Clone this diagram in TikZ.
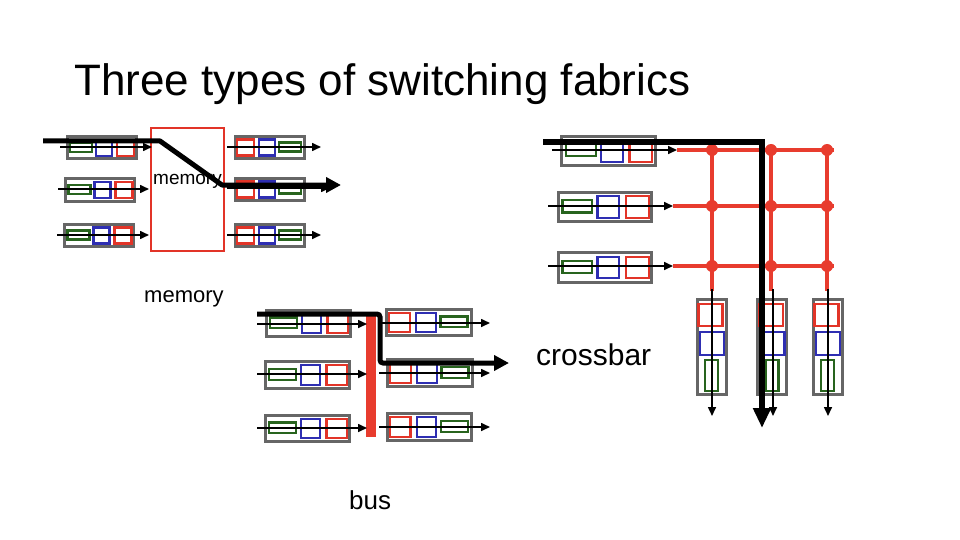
\documentclass[tikz,border=0pt]{standalone}
\usepackage{fontspec}
\setmainfont{Liberation Sans}
\usetikzlibrary{arrows.meta}
\definecolor{qred}{RGB}{226,52,40}
\definecolor{qblue}{RGB}{46,46,178}
\definecolor{qgreen}{RGB}{40,100,30}
\definecolor{qgray}{RGB}{102,102,102}
\definecolor{xred}{RGB}{232,60,46}
\tikzset{
  qbox/.style={draw=qgray, line width=3pt, fill=white, inner sep=0pt},
  cell/.style={line width=2.2pt, inner sep=0pt},
  qarrow/.style={line width=1.6pt, -{Triangle[length=9pt,width=8pt]}},
  bigarrow/.style={line width=5pt, -{Triangle[length=15pt,width=15pt]}},
  redline/.style={xred, line width=4pt},
  xdot/.style={circle, fill=xred, minimum size=12pt, inner sep=0pt},
  lbl/.style={inner sep=0pt, anchor=base west},
  pics/inq/.style={code={
    \node[qbox, minimum width=69pt, minimum height=22pt] (-box) at (0,0) {};
    \node[cell, draw=qgreen, minimum width=22pt, minimum height=9pt] (-g) at (-20.5,-0.5) {};
    \node[cell, draw=qblue, minimum width=16pt, minimum height=16pt] (-b) at (2.5,0) {};
    \node[cell, draw=qred, minimum width=17pt, minimum height=16pt] (-r) at (24,0) {};
  }},
  pics/vq/.style={code={
    \node[qbox, minimum width=29pt, minimum height=95pt] (-box) at (0,0) {};
    \node[cell, draw=qred, minimum width=24pt, minimum height=22pt] (-r) at (-1,-31.5) {};
    \node[cell, draw=qblue, minimum width=24pt, minimum height=23pt] (-b) at (0.5,-3) {};
    \node[cell, draw=qgreen, minimum width=13pt, minimum height=31pt] (-g) at (0,29) {};
  }}
}
\begin{document}
\begin{tikzpicture}[x=1pt,y=-1pt]
\useasboundingbox (0,0) rectangle (960,540);

% title
\node[lbl, font=\fontsize{44}{50}\selectfont] (title) at (74,96) {Three types of switching fabrics};

% ---------------- memory ----------------
\node[draw=qred, line width=2.4pt, minimum width=73pt, minimum height=123pt, inner sep=0pt] (mem) at (187.5,189.5) {};
\node[lbl, font=\fontsize{19}{22}\selectfont] (memtxt) at (153,185) {memory};
\pic (mi1) at (101.5,148) {inq};
\pic (mi2) at (100,190) {inq};
\pic (mi3) at (99,235.5) {inq};
\pic[xscale=-1, transform shape] (mo1) at (269.5,147.5) {inq};
\pic[xscale=-1, transform shape] (mo2) at (269.5,189.5) {inq};
\pic[xscale=-1, transform shape] (mo3) at (269.5,235.5) {inq};
\coordinate (ma1) at (60,147);  \coordinate (mb1) at (152,147);
\coordinate (ma2) at (58,189);  \coordinate (mb2) at (149,189);
\coordinate (ma3) at (57,235);  \coordinate (mb3) at (149,235);
\coordinate (mc1) at (227,147); \coordinate (md1) at (321,147);
\coordinate (mc2) at (227,188); \coordinate (md2) at (330,188);
\coordinate (mc3) at (227,235); \coordinate (md3) at (321,235);
\foreach \i in {1,2,3} {
  \draw[qarrow] (ma\i) -- (mb\i);
  \draw[qarrow] (mc\i) -- (md\i);
}
\coordinate (mt0) at (43,141); \coordinate (mt1) at (160,141);
\coordinate (mt2) at (222,185); \coordinate (mt3) at (341,185);
\draw[bigarrow, line join=round] (mt0) -- (mt1) -- (mt2) -- (mt3);
\node[lbl, font=\fontsize{22}{26}\selectfont] (memcap) at (144,302) {memory};

% ---------------- bus ----------------
\pic[scale=1.22, transform shape] (bi1) at (308.5,323.5) {inq};
\pic[scale=1.22, transform shape] (bi2) at (307.5,375) {inq};
\pic[scale=1.22, transform shape] (bi3) at (307.5,428.5) {inq};
\pic[xscale=-1.22, yscale=1.22, transform shape] (bo1) at (429,322.5) {inq};
\pic[xscale=-1.22, yscale=1.22, transform shape] (bo2) at (430,373) {inq};
\pic[xscale=-1.22, yscale=1.22, transform shape] (bo3) at (429.5,427) {inq};
\node[fill=xred, minimum width=10pt, minimum height=124pt, inner sep=0pt] (bus) at (371,375) {};
\coordinate (ba1) at (257,324); \coordinate (bb1) at (367,324);
\coordinate (ba2) at (257,374); \coordinate (bb2) at (367,374);
\coordinate (ba3) at (257,428); \coordinate (bb3) at (367,428);
\coordinate (bc1) at (379,323); \coordinate (bd1) at (490,323);
\coordinate (bc2) at (379,373); \coordinate (bd2) at (490,373);
\coordinate (bc3) at (379,427); \coordinate (bd3) at (490,427);
\foreach \i in {1,2,3} {
  \draw[qarrow] (ba\i) -- (bb\i);
  \draw[qarrow] (bc\i) -- (bd\i);
}
\coordinate (bt0) at (257,314); \coordinate (bt1) at (380,314);
\coordinate (bt2) at (380,363); \coordinate (bt3) at (509,363);
\draw[bigarrow, rounded corners=3pt] (bt0) -- (bt1) -- (bt2) -- (bt3);
\node[lbl, font=\fontsize{26}{30}\selectfont] (buscap) at (349,509) {bus};

% ---------------- crossbar ----------------
\pic[scale=1.35, transform shape] (ci1) at (608.5,151) {inq};
\pic[scale=1.35, transform shape] (ci2) at (605,207) {inq};
\pic[scale=1.35, transform shape] (ci3) at (605,267.5) {inq};
\pic (co1) at (711.5,346.5) {vq};
\pic (co2) at (772,346.5) {vq};
\pic (co3) at (827.5,346.5) {vq};
% red grid
\coordinate (h1a) at (677,150); \coordinate (h1b) at (834,150);
\coordinate (h2a) at (673,206); \coordinate (h2b) at (834,206);
\coordinate (h3a) at (673,266); \coordinate (h3b) at (834,266);
\coordinate (v1a) at (712,150); \coordinate (v1b) at (712,291);
\coordinate (v2a) at (771,150); \coordinate (v2b) at (771,291);
\coordinate (v3a) at (827,150); \coordinate (v3b) at (827,291);
\foreach \i in {1,2,3} {
  \draw[redline] (h\i a) -- (h\i b);
  \draw[redline] (v\i a) -- (v\i b);
}
\node[xdot] (d11) at (712,150) {}; \node[xdot] (d12) at (771,150) {}; \node[xdot] (d13) at (827,150) {};
\node[xdot] (d21) at (712,206) {}; \node[xdot] (d22) at (771,206) {}; \node[xdot] (d23) at (827,206) {};
\node[xdot] (d31) at (712,266) {}; \node[xdot] (d32) at (771,266) {}; \node[xdot] (d33) at (827,266) {};
% input arrows
\coordinate (ca1) at (552,150); \coordinate (cb1) at (677,150);
\coordinate (ca2) at (548,206); \coordinate (cb2) at (673,206);
\coordinate (ca3) at (548,266); \coordinate (cb3) at (673,266);
\foreach \i in {1,2,3} { \draw[qarrow] (ca\i) -- (cb\i); }
% output arrows
\coordinate (cc1) at (712,289); \coordinate (cd1) at (712,416);
\coordinate (cc2) at (773,289); \coordinate (cd2) at (773,416);
\coordinate (cc3) at (828,289); \coordinate (cd3) at (828,416);
\foreach \i in {1,2,3} { \draw[qarrow] (cc\i) -- (cd\i); }
% thick path
\coordinate (ct0) at (543,142); \coordinate (ct1) at (762,142); \coordinate (ct2) at (762,428);
\draw[bigarrow, line width=5.5pt, -{Triangle[length=20pt,width=17pt]}] (ct0) -- (ct1) -- (ct2);
\node[lbl, font=\fontsize{30}{34}\selectfont] (xcap) at (536,365) {crossbar};
\end{tikzpicture}
\end{document}
